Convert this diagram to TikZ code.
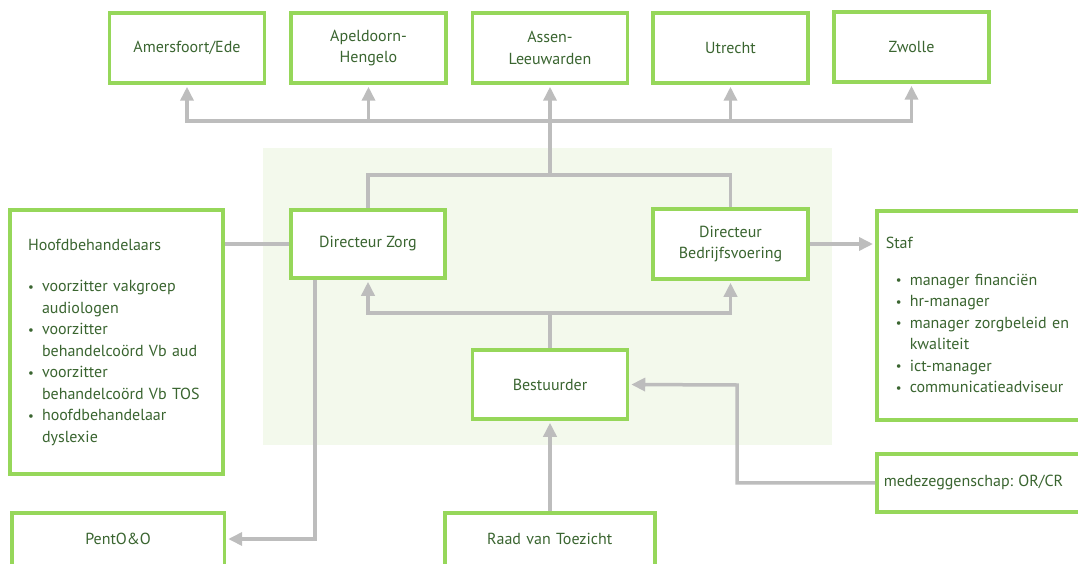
\documentclass[tikz,border=0pt]{standalone}
\usepackage{fontspec}
\setmainfont{PT Sans}
\usetikzlibrary{arrows.meta}
\definecolor{boxgreen}{HTML}{96D75A}
\definecolor{txtgreen}{HTML}{3A6530}
\definecolor{conngray}{HTML}{BDBDBD}
\definecolor{bggreen}{HTML}{F3F9EC}
\newcommand{\bul}{\makebox[14pt][l]{\raisebox{0.5pt}{\scalebox{0.8}{•}}}}
\frenchspacing
\begin{document}
\begin{tikzpicture}[x=1pt,y=-1pt,
  box/.style={draw=boxgreen, line width=3.5pt, fill=white, text=txtgreen,
    font=\fontsize{16}{21.5}\selectfont, align=center, inner sep=0pt},
  conn/.style={draw=conngray, line width=3.5pt},
  arr/.style={conn, -{Triangle[length=14pt,width=13pt]}, shorten >=2pt}]
\clip (0,0) rectangle (1078,564);
\fill[bggreen] (263,148) rectangle (832,445);

% top row
\node[box, minimum width=155, minimum height=70] (ame) at (187,48) {Amersfoort/Ede};
\node[box, minimum width=155, minimum height=70] (ape) at (368.5,48) {Apeldoorn-\\Hengelo};
\node[box, minimum width=155, minimum height=70] (ass) at (550,48) {Assen-\\Leeuwarden};
\node[box, minimum width=155, minimum height=70] (utr) at (730.5,48) {Utrecht};
\node[box, minimum width=155, minimum height=70] (zwo) at (911.5,47) {Zwolle};

% directors
\node[box, minimum width=154, minimum height=68] (dz) at (368,244) {Directeur Zorg};
\node[box, minimum width=155, minimum height=70] (db) at (730.5,244) {Directeur\\Bedrijfsvoering};
\node[box, minimum width=155, minimum height=69] (best) at (550,384.5) {Bestuurder};

% side boxes
\node[box, minimum height=264, text width=177, inner xsep=18, align=left] (hoofd) at (116.5,342) {%
Hoofdbehandelaars\\[20pt]
\bul voorzitter vakgroep\\
\hspace*{14pt}audiologen\\
\bul voorzitter\\
\hspace*{14pt}behandelcoörd Vb aud\\
\bul voorzitter\\
\hspace*{14pt}behandelcoörd Vb TOS\\
\bul hoofdbehandelaar\\
\hspace*{14pt}dyslexie};

\node[box, anchor=north west, minimum height=209, text width=222, inner xsep=9, align=left] (staf) at (875,209) {%
Staf\\[15pt]
\hspace*{10pt}\bul manager financiën\\
\hspace*{10pt}\bul hr-manager\\
\hspace*{10pt}\bul manager zorgbeleid en\\
\hspace*{24pt}kwaliteit\\
\hspace*{10pt}\bul ict-manager\\
\hspace*{10pt}\bul communicatieadviseur};

\node[box, anchor=north west, minimum height=58, text width=240, inner xsep=7, align=left] (mede) at (875,452) {medezeggenschap: OR/CR};

\node[box, anchor=north west, text width=212.7, text height=32, text depth=60] (pent) at (10,511) {PentO\&O};
\node[box, anchor=north west, text width=210, text height=32, text depth=60] (raad) at (443,511) {Raad van Toezicht};

% junctions
\coordinate (j1) at (550,175);
\coordinate (j2) at (550,121);
\coordinate (j3) at (550,313);
\coordinate (k) at (315,539);
\coordinate (m) at (737,385);

% connectors
\draw[conn] (dz.north) |- (j1) -| (db.north);
\draw[conn] (j1) -- (j2);
\foreach \r in {ame,ape,ass,utr,zwo}{\draw[arr] (j2) -| (\r.south);}
\draw[conn] (dz.west) -- (dz.west -| hoofd.east);
\draw[arr] (db.east) -- (db.east -| staf.west);
\draw[conn] (best.north) -- (j3);
\draw[arr] (j3) -| (dz.south);
\draw[arr] (j3) -| (db.south);
\draw[arr] (raad.north -| best.south) -- (best.south);
\draw[arr] (dz.south -| k) -- (k) -- (k -| pent.east);
\draw[arr] (mede.west) -| (m) -- (best.east);
\end{tikzpicture}
\end{document}
